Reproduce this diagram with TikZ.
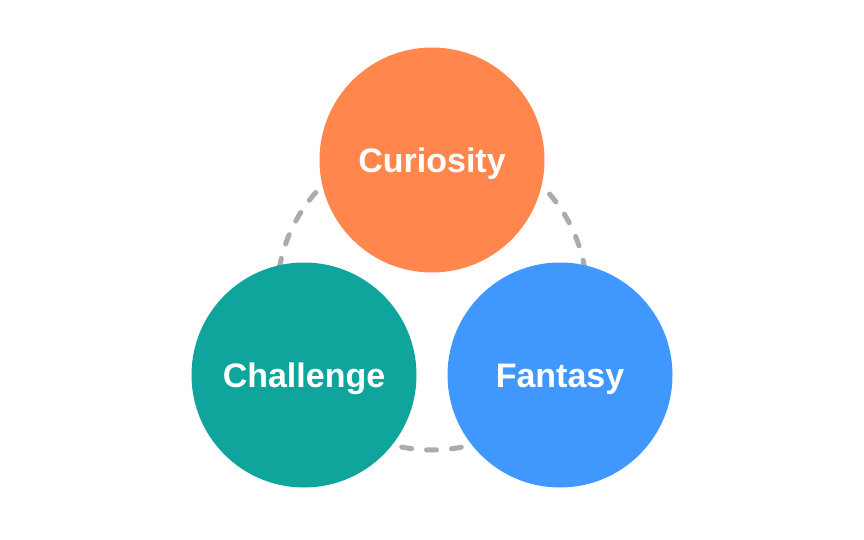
\documentclass[tikz,border=0pt]{standalone}
\usepackage{fontspec}
\setmainfont{Liberation Sans}
\usepackage{tikz}
\usetikzlibrary{positioning}
\definecolor{curiosityorange}{HTML}{FF864D}
\definecolor{challengeteal}{HTML}{0FA59D}
\definecolor{fantasyblue}{HTML}{4098FF}
\definecolor{ringgray}{HTML}{ABABAB}

\begin{document}
\begin{tikzpicture}[x=1pt,y=-1pt,
   bubble/.style={circle,minimum size=225pt,inner sep=0pt,text=white,
      text height=24.3pt,text depth=0pt,
      font=\fontsize{34}{36}\selectfont\bfseries},
   ring/.style={draw=ringgray,line width=5pt,line cap=round,
      dash pattern=on 10pt off 15pt}]
\useasboundingbox (0,0) rectangle (864,540);
\draw[ring] (432,295) circle[radius=155pt];
\node[bubble,fill=curiosityorange] (curiosity) at (432,160) {Curiosity};
\node[bubble,fill=challengeteal] (challenge) at (304,375) {Challenge};
\node[bubble,fill=fantasyblue] (fantasy) at (560,375) {Fantasy};
\end{tikzpicture}
\end{document}
